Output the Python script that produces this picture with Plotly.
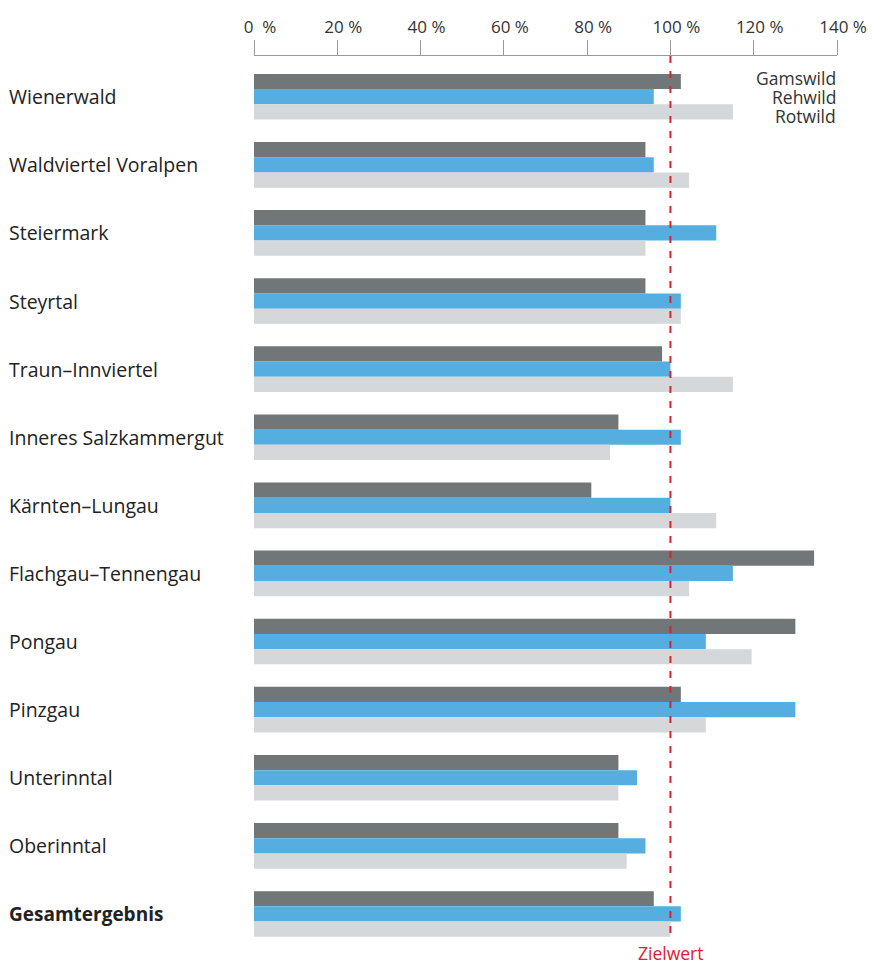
import plotly.graph_objects as go

categories = ["Wienerwald", "Waldviertel Voralpen", "Steiermark", "Steyrtal",
              "Traun–Innviertel", "Inneres Salzkammergut", "Kärnten–Lungau",
              "Flachgau–Tennengau", "Pongau", "Pinzgau", "Unterinntal",
              "Oberinntal", "Gesamtergebnis"]
gamswild = [102.5, 94, 94, 94, 98, 87.5, 81, 134.5, 130, 102.5, 87.5, 87.5, 96]
rehwild = [96, 96, 111, 102.5, 100, 102.5, 100, 115, 108.5, 130, 92, 94, 102.5]
rotwild = [115, 104.5, 94, 102.5, 115, 85.5, 111, 104.5, 119.5, 108.5, 87.5, 89.5, 100]
series_names = ["Gamswild", "Rehwild", "Rotwild"]
series_colors = ["#717678", "#55AEDF", "#D5D8DB"]
tick_vals = [0, 20, 40, 60, 80, 100, 120, 140]
tick_text = ["0  %", "20 %", "40 %", "60 %", "80 %", "100 %", "120 %", "140 %"]
target = 100

FONT = "Open Sans"
W, H = 872, 963
L, R, T, B = 254, 35, 56, 15
fig = go.Figure()
for name, vals, col in zip(series_names, [gamswild, rehwild, rotwild], series_colors):
    fig.add_trace(go.Bar(y=categories, x=vals, orientation="h", name=name,
                         marker=dict(color=col, line=dict(width=0)),
                         hoverinfo="x+y"))

fig.update_layout(
    width=W, height=H,
    margin=dict(l=L, r=R, t=T, b=B, autoexpand=False),
    plot_bgcolor="white", paper_bgcolor="white",
    barmode="group", bargap=0.33, bargroupgap=0,
    showlegend=False,
    font=dict(family=FONT, color="#333333"),
)
fig.update_xaxes(side="top", range=[0, 140], tickvals=tick_vals, ticktext=tick_text,
                 ticks="outside", ticklen=15, tickcolor="#9a9a9a", tickwidth=1,
                 showline=True, linecolor="#9a9a9a", linewidth=1,
                 showgrid=False, zeroline=False, ticklabelshift=6, automargin=False,
                 tickfont=dict(family=FONT, size=17, color="#333333"))
fig.update_yaxes(range=[len(categories) - 0.5, -0.598], showticklabels=False,
                 showgrid=False, zeroline=False, showline=False, ticks="",
                 automargin=False)

# target line
fig.add_shape(type="line", xref="x", yref="paper", x0=target, x1=target, y0=1, y1=0.012,
              line=dict(color="#D9232D", width=2, dash="7px,8px"))
fig.add_annotation(x=target, xref="x", y=0, yref="paper", yshift=-4, text="Zielwert",
                   showarrow=False, yanchor="middle", height=15,
                   font=dict(family=FONT, size=17.5, color="#D9232D"))

# category labels
label_x = (8 - L) / (W - L - R)
for i, c in enumerate(categories):
    if c == "Gesamtergebnis":
        txt, sz = f"<b>{c}</b>", 19
    else:
        txt, sz = c, 19.5
    fig.add_annotation(x=label_x, xref="paper", y=c, yref="y", text=txt,
                       showarrow=False, xanchor="left", yanchor="middle", borderpad=0,
                       font=dict(family=FONT, size=sz, color="#222222"))

# series labels at first group
for k, name in enumerate(series_names):
    fig.add_annotation(x=1.0, xref="paper", y=categories[0], yref="y", text=name,
                       showarrow=False, xanchor="right", yanchor="middle",
                       yshift=(1 - k) * 19.2, xshift=1, height=19,
                       font=dict(family=FONT, size=17.5, color="#333333"))

fig.write_html("out.html", config={"displayModeBar": False},
               post_script="document.body.style.margin='0';document.body.style.overflow='hidden';")
